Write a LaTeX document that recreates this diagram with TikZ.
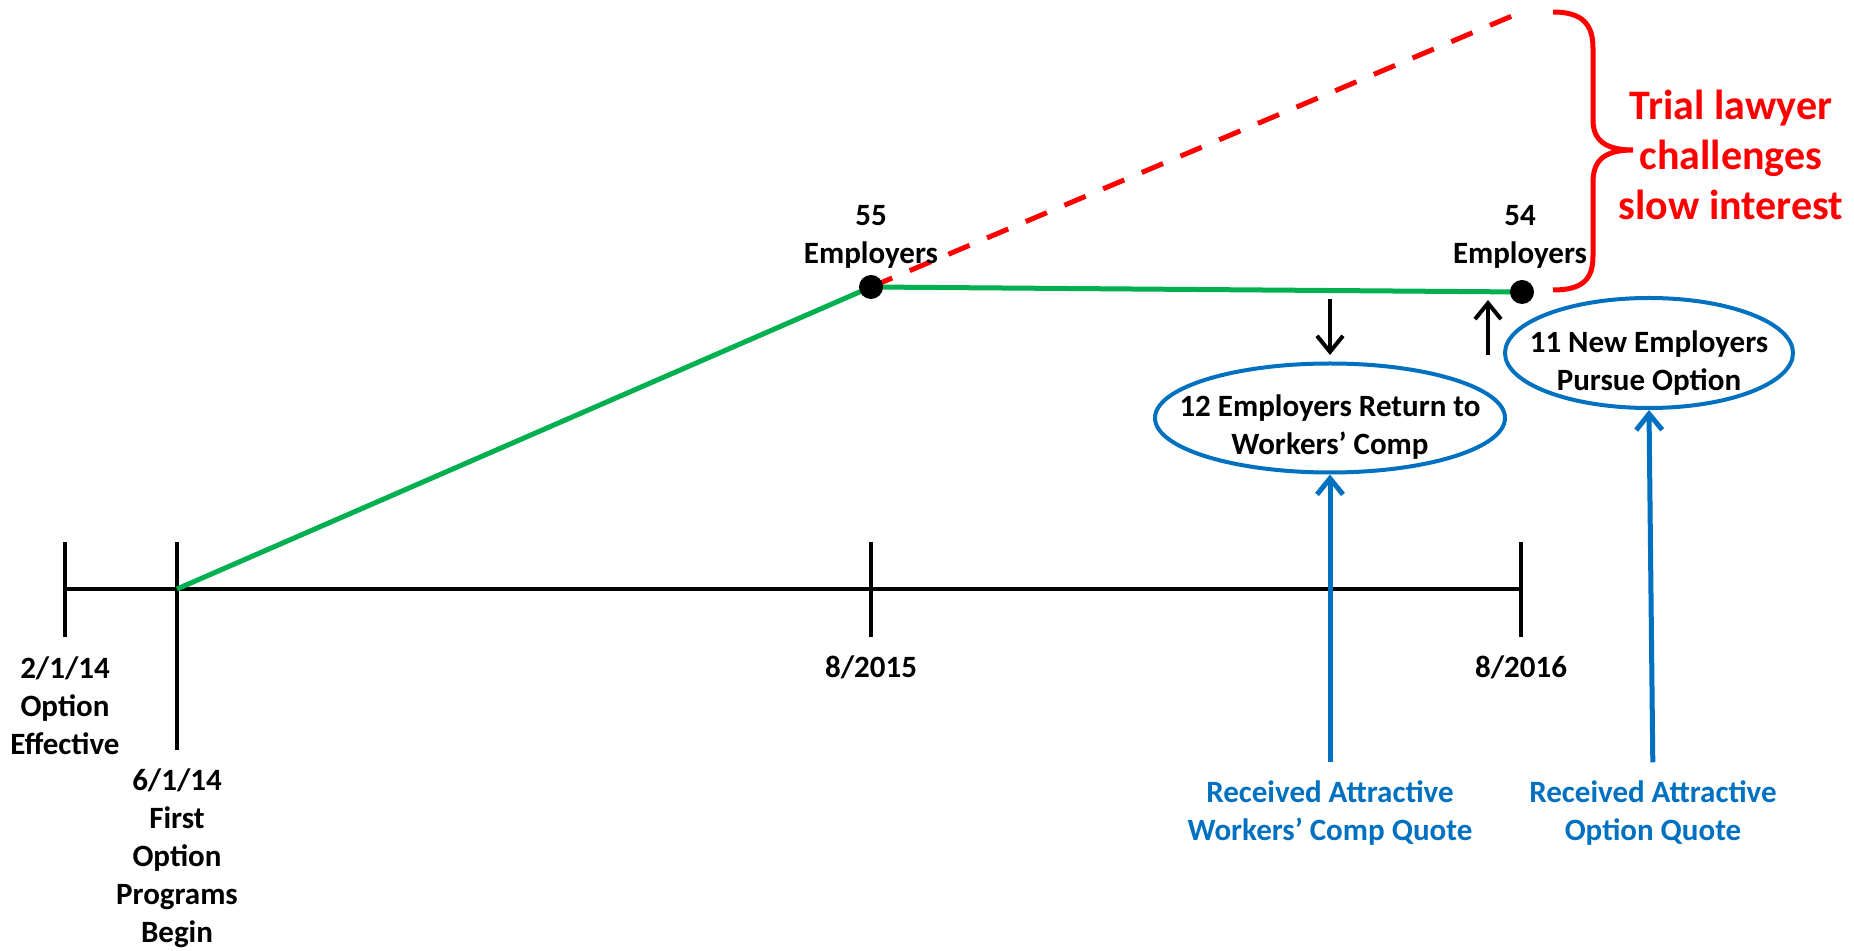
\documentclass[tikz,border=0pt]{standalone}
\usepackage{fontspec}
\setmainfont{Carlito}
\usetikzlibrary{arrows.meta,shapes.geometric}
\definecolor{lineGreen}{RGB}{0,176,80}
\definecolor{quoteBlue}{RGB}{0,112,192}

\begin{document}
\begin{tikzpicture}[x=0.5pt,y=-0.5pt,
		lbl/.style={font=\fontsize{15.5}{19}\selectfont\bfseries,align=center,inner sep=0pt},
		axisline/.style={line width=2pt},
		empdot/.style={circle,fill=black,minimum size=12pt,inner sep=0pt},
		oval/.style={ellipse,draw=quoteBlue,line width=2pt,inner sep=0pt},
		blackarrow/.style={line width=2pt,-{Straight Barb[length=8pt,width=13pt]}},
		bluearrow/.style={draw=quoteBlue,line width=2.5pt,-{Straight Barb[length=8pt,width=13pt]},shorten <=9pt}]
	\useasboundingbox (0,0) rectangle (1854,951);
	% time axis with its ticks
	\coordinate (t0) at (65,589);
	\coordinate (t1) at (177,589);
	\coordinate (t2) at (871,589);
	\coordinate (t3) at (1521,589);
	\draw[axisline] (t0) -- (t3);
	\draw[axisline] (t0) ++(0,-47) -- ++(0,95);
	\draw[axisline] (t1) ++(0,-47) -- ++(0,208);
	\draw[axisline] (t2) ++(0,-47) -- ++(0,95);
	\draw[axisline] (t3) ++(0,-47) -- ++(0,95);
	\node[lbl] (d0) at (65,706) {2/1/14\\Option\\Effective};
	\node[lbl] (d1) at (177,858) {6/1/14\\First\\Option\\Programs\\Begin};
	\node[lbl] (d2) at (871,667) {8/2015};
	\node[lbl] (d3) at (1521,667) {8/2016};
	% employer counts
	\coordinate (c55) at (871,287);
	\coordinate (c54) at (1522,292);
	\coordinate (peak) at (1512,16);
	\draw[red,line width=2.5pt,dash pattern=on 11.5pt off 9.5pt] (c55) -- (peak);
	\draw[lineGreen,line width=2.5pt] (t1) -- (c55) -- (c54);
	\node[empdot] (p55) at (c55) {};
	\node[empdot] (p54) at (c54) {};
	\node[lbl] (n55) at (871,237) {55\\Employers};
	\node[lbl] (n54) at (1520,237) {54\\Employers};
	% in and out
	\node[oval,minimum width=175pt,minimum height=54.5pt] (back) at (1330,418) {};
	\node[lbl] (backtxt) at (1330,427) {12 Employers Return to\\Workers’ Comp};
	\node[oval,minimum width=144pt,minimum height=55pt] (newopt) at (1649,353) {};
	\node[lbl] (newopttxt) at (1649,363) {11 New Employers\\Pursue Option};
	\coordinate (outA) at (1330,299);
	\coordinate (outB) at (1330,355);
	\coordinate (inA) at (1488,355);
	\coordinate (inB) at (1488,300);
	\draw[blackarrow] (outA) -- (outB);
	\draw[blackarrow] (inA) -- (inB);
	\node[lbl,text=quoteBlue] (wcq) at (1330,813) {Received Attractive\\Workers’ Comp Quote};
	\node[lbl,text=quoteBlue] (oq) at (1653,813) {Received Attractive\\Option Quote};
	\draw[bluearrow] (wcq.north) -- (back.south);
	\draw[bluearrow] (oq.north) -- (newopt.south);
	% brace and note
	\draw[red,line width=2.5pt] (1553,12) .. controls (1583,12) and (1593,25) .. (1593,48) -- (1593,120)
		.. controls (1593,140) and (1605,150) .. (1633,150)
		.. controls (1605,150) and (1593,160) .. (1593,182) -- (1593,256)
		.. controls (1593,279) and (1583,290) .. (1553,290);
	\node[font=\fontsize{21}{25}\selectfont\bfseries,text=red,align=center,inner sep=0pt] (trial) at (1731,155) {Trial lawyer\\challenges\\slow interest};
\end{tikzpicture}
\end{document}
